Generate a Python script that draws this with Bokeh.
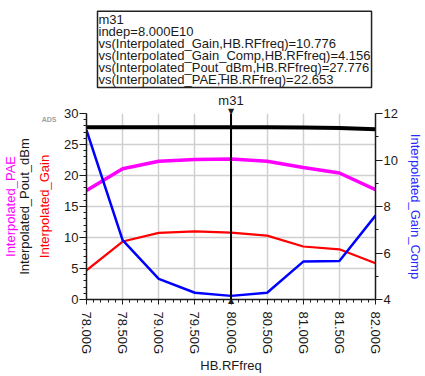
import math
from bokeh.plotting import figure
from bokeh.models import Range1d, LinearAxis, FixedTicker, Span, Title
from bokeh.embed import file_html
from bokeh.resources import INLINE

# ---- data -------------------------------------------------------------
freq_ghz = [78.0, 78.5, 79.0, 79.5, 80.0, 80.5, 81.0, 81.5, 82.0]
gain = [4.70, 9.35, 10.75, 10.98, 10.776, 10.30, 8.55, 8.10, 5.85]
gain_comp = [11.28, 6.55, 4.89, 4.29, 4.156, 4.29, 5.63, 5.66, 7.61]
pout_dbm = [27.80, 27.80, 27.79, 27.78, 27.776, 27.77, 27.74, 27.65, 27.45]
pae = [17.60, 21.10, 22.30, 22.60, 22.653, 22.30, 21.30, 20.40, 17.70]

x_tick_values = [78.0, 78.5, 79.0, 79.5, 80.0, 80.5, 81.0, 81.5, 82.0]
x_tick_labels = ["78.00G", "78.50G", "79.00G", "79.50G", "80.00G",
                 "80.50G", "81.00G", "81.50G", "82.00G"]
left_ticks = [0, 5, 10, 15, 20, 25, 30]
right_ticks = [4, 6, 8, 10, 12]

marker_name = "m31"
marker_x = 80.0
marker_indep = "8.000E10"

FONT = "Liberation Sans"
INK = "#1a1a1a"

p = figure(width=425, height=376, output_backend="svg", toolbar_location=None,
           x_range=Range1d(78, 82), y_range=Range1d(0, 30),
           min_border_left=86, min_border_right=47,
           min_border_top=113, min_border_bottom=77)
p.extra_y_ranges = {"right": Range1d(4, 12)}
p.outline_line_color = None

x_minor = [round(78 + 0.1 * i, 2) for i in range(41)]
xt = FixedTicker(ticks=x_tick_values, minor_ticks=x_minor)
lt = FixedTicker(ticks=left_ticks, minor_ticks=list(range(0, 31)))
rt = FixedTicker(ticks=right_ticks, minor_ticks=list(range(4, 13)))

xa = p.xaxis[0]
xa.ticker = xt
xa.major_label_overrides = {v: s for v, s in zip(x_tick_values, x_tick_labels)}
xa.major_label_orientation = -math.pi / 2
xa.axis_label = "HB.RFfreq"
xa.axis_label_standoff = 1
ya = p.yaxis[0]
ya.ticker = lt

ra = LinearAxis(y_range_name="right", ticker=rt)
ra.axis_label = "Interpolated_Gain_Comp"
ra.axis_label_standoff = 7
ra.axis_label_text_color = "#2a2aff"
p.add_layout(ra, "right")

for ax in (xa, ya, ra):
    ax.axis_line_color = INK
    ax.axis_line_width = 1.5
    ax.major_tick_line_color = INK
    ax.minor_tick_line_color = INK
    ax.major_tick_in = 0
    ax.minor_tick_in = 0
    ax.major_label_text_font = FONT
    ax.major_label_text_font_size = "13px"
    ax.major_label_text_color = INK
    ax.axis_label_text_font = FONT
    ax.axis_label_text_font_size = "13px"
    ax.axis_label_text_font_style = "normal"
xa.axis_label_text_color = INK
xa.major_tick_out = 5
xa.minor_tick_out = 3
xa.major_label_standoff = 7
for ax in (ya, ra):
    ax.major_tick_out = 7
    ax.minor_tick_out = 3
    ax.major_label_standoff = 1

p.xgrid.ticker = xt
p.ygrid.ticker = lt
p.xgrid.grid_line_color = "#d0d0d0"
p.ygrid.grid_line_color = "#d0d0d0"
p.xgrid.grid_line_width = 1.5
p.ygrid.grid_line_width = 1.5

# ---- series -------------------------------------------------------------
p.line(freq_ghz, pae, line_color="#ff00ff", line_width=3.5)
p.line(freq_ghz, pout_dbm, line_color="black", line_width=4)
p.line(freq_ghz, gain, line_color="#ff0000", line_width=2.2)
p.line(freq_ghz, gain_comp, line_color="#0000ff", line_width=2.5, y_range_name="right")

# ---- marker ---------------------------------------------------------------
p.add_layout(Span(location=marker_x, dimension="height", line_color="black", line_width=2))

idx = freq_ghz.index(marker_x)
box_lines = [
    marker_name,
    "indep=" + marker_indep,
    "vs(Interpolated_Gain,HB.RFfreq)=%.3f" % gain[idx],
    "vs(Interpolated_Gain_Comp,HB.RFfreq)=%.3f" % gain_comp[idx],
    "vs(Interpolated_Pout_dBm,HB.RFfreq)=%.3f" % pout_dbm[idx],
    "vs(Interpolated_PAE,HB.RFfreq)=%.3f" % pae[idx],
]

# "ADS" watermark as a bare helper axis on the left
ads_axis = LinearAxis(ticker=FixedTicker(ticks=[29.0]), major_label_overrides={29.0: "ADS"})
ads_axis.axis_line_color = None
ads_axis.major_tick_line_color = None
ads_axis.minor_tick_line_color = None
ads_axis.major_tick_out = 0
ads_axis.minor_tick_out = 0
ads_axis.major_label_standoff = 5
ads_axis.major_label_text_font = FONT
ads_axis.major_label_text_font_size = "7px"
ads_axis.major_label_text_font_style = "bold"
ads_axis.major_label_text_color = "#a0a0a0"
p.add_layout(ads_axis, "left")


def side_title(text, size="13px", color=INK, font=FONT, **kw):
    return Title(text=text, text_font=font, text_font_size=size, text_font_style="normal",
                 text_color=color, **kw)


# left rotated titles (inner -> outer)
p.add_layout(side_title("Interpolated_Gain", color="#ff0000", align="center",
                        vertical_align="bottom", standoff=-26), "left")
p.add_layout(side_title("Interpolated_Pout_dBm", align="center",
                        vertical_align="middle", standoff=11), "left")
p.add_layout(side_title("Interpolated_PAE", color="#ff00ff", align="center",
                        vertical_align="middle", standoff=-25), "left")

# above (inner -> outer): marker triangle, marker name, marker readout box
p.add_layout(side_title("\u25bc", size="8px", font="DejaVu Sans", align="center",
                        vertical_align="middle", standoff=-6), "above")
p.add_layout(side_title(marker_name, align="center", vertical_align="bottom",
                        standoff=1), "above")
p.add_layout(side_title("\n".join(box_lines), align="left", offset=11,
                        vertical_align="bottom", standoff=6, text_line_height=0.79,
                        border_line_color="#222222", border_line_width=1.5,
                        background_fill_color="white", padding=1), "above")

# below: marker triangle (inner, zero size) before the x axis
tri_up = side_title("\u25b2", size="8px", font="DejaVu Sans", align="center",
                    vertical_align="bottom", standoff=-11)
p.below = [tri_up] + list(p.below)

open("out.html", "w").write(file_html(p, INLINE))
